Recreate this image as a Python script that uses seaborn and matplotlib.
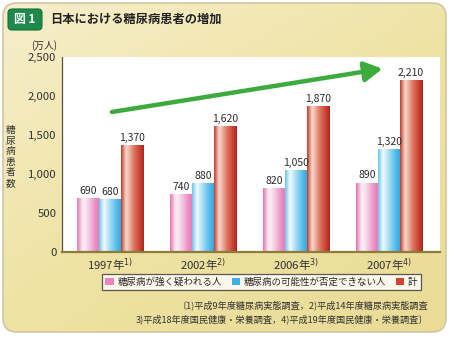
import numpy as np
import pandas as pd
import matplotlib
matplotlib.use("Agg")
import matplotlib.pyplot as plt
import seaborn as sns
from matplotlib.colors import LinearSegmentedColormap
from matplotlib.patches import FancyBboxPatch, Patch

# --- data -------------------------------------------------------------
years = ["1997年$^{1)}$", "2002年$^{2)}$", "2006年$^{3)}$", "2007年$^{4)}$"]
strongly_suspected = [690, 740, 820, 890]       # 糖尿病が強く疑われる人
cannot_be_ruled_out = [680, 880, 1050, 1320]    # 糖尿病の可能性が否定できない人
total = [1370, 1620, 1870, 2210]                # 計
series_names = ["糖尿病が強く疑われる人", "糖尿病の可能性が否定できない人", "計"]
y_ticks = [0, 500, 1000, 1500, 2000, 2500]

df = pd.DataFrame({
    "year": years * 3,
    "group": [series_names[0]] * 4 + [series_names[1]] * 4 + [series_names[2]] * 4,
    "value": strongly_suspected + cannot_be_ruled_out + total,
})

sns.set_theme(style="white")
JP = ["Noto Sans CJK JP", "DejaVu Sans"]
plt.rcParams["font.family"] = JP
plt.rcParams["mathtext.fontset"] = "dejavusans"

W, H = 450, 337
fig = plt.figure(figsize=(W / 100, H / 100), dpi=100)
fig.patch.set_facecolor("white")

# cream/yellow card background with rounded corners
bg = fig.add_axes([0, 0, 1, 1], zorder=-10)
bg.set_xlim(0, W)
bg.set_ylim(H, 0)
bg.axis("off")
gy = np.linspace(0, 1, 64)[:, None]
gx = np.linspace(0, 1, 64)[None, :]
grad = 0.55 * gy + 0.45 * gx
card_cmap = LinearSegmentedColormap.from_list("card", ["#f6eecb", "#efe3a4", "#eadc96"])
card = FancyBboxPatch((3, 3), W - 7, H - 8, boxstyle="round,pad=0,rounding_size=14",
                      facecolor="none", edgecolor="#cfc7a4", lw=1.2)
bg.add_patch(card)
im = bg.imshow(card_cmap(grad), extent=[3, W - 4, H - 5, 3], aspect="auto", zorder=0)
im.set_clip_path(card)

# title badge and title
badge = FancyBboxPatch((8, 9), 34, 21, boxstyle="round,pad=0,rounding_size=4",
                       facecolor="#1f8a4c", edgecolor="#16703c", lw=0.8)
bg.add_patch(badge)
bg.text(25, 19.5, "図 1", color="white", fontsize=8.5, fontweight="bold",
        ha="center", va="center", family=JP)
bg.text(50, 19.5, "日本における糖尿病患者の増加", color="#222222", fontsize=8.8,
        fontweight="bold", ha="left", va="center", family=JP)

# unit and vertical y label (one glyph per line)
bg.text(44, 45.5, "(万人)", fontsize=7, ha="center", va="center", color="#333333", family=JP)
for k, ch in enumerate("糖尿病患者数"):
    bg.text(11, 130 + k * 10.6, ch, fontsize=7, ha="center", va="center",
            color="#333333", family=JP)

# --- bars -------------------------------------------------------------
ax = fig.add_axes([62 / W, 1 - 252 / H, (440 - 62) / W, (252 - 57) / H])
ax.set_facecolor("white")
palette = ["#ec8cc0", "#45b4e6", "#cf3f2f"]
sns.barplot(data=df, x="year", y="value", hue="group", palette=palette,
            width=0.71, saturation=1, legend=False, ax=ax, linewidth=0)

ax.set_xlim(-0.516, 3.55)
ax.set_ylim(0, 2500)
ax.set_yticks(y_ticks)
ax.set_yticklabels([f"{v:,}" for v in y_ticks], fontsize=8.2, color="#333333")
ax.set_xlabel("")
ax.set_ylabel("")
ax.tick_params(axis="y", direction="out", length=3, width=0.8, color="#555555", pad=1)
ax.tick_params(axis="x", length=0, pad=3)
for lab in ax.get_xticklabels():
    lab.set_fontsize(8.2)
    lab.set_color("#333333")
for side in ["top", "right"]:
    ax.spines[side].set_visible(False)
ax.spines["left"].set_color("#5a5040")
ax.spines["left"].set_linewidth(0.9)
ax.spines["bottom"].set_color("#8c7c3c")
ax.spines["bottom"].set_linewidth(1.6)

# horizontal shading inside each bar
gradients = [
    ["#e274ad", "#f9e3ef", "#fbeef5", "#f3c4de", "#ea8ac0", "#e67ab5"],
    ["#6cc4ec", "#f2fafe", "#d4eff9", "#8fd3f2", "#48b6e7", "#2ea6de"],
    ["#c33a2a", "#f6d8cc", "#f0c0b0", "#de7a66", "#cc4232", "#a9281c"],
]
stops = [0.0, 0.22, 0.32, 0.55, 0.82, 1.0]
cmaps = [LinearSegmentedColormap.from_list(f"bar{i}", list(zip(stops, c)))
         for i, c in enumerate(gradients)]
row = np.linspace(0, 1, 128)[None, :]
for i, container in enumerate(ax.containers):
    for patch in container:
        x0, y0 = patch.get_x(), patch.get_y()
        w, h = patch.get_width(), patch.get_height()
        g = ax.imshow(cmaps[i](row), extent=[x0, x0 + w, y0, y0 + h],
                      aspect="auto", zorder=patch.get_zorder() + 0.1)
        g.set_clip_path(patch)
    ax.bar_label(container, labels=[f"{v:,.0f}" for v in container.datavalues],
                 fontsize=7.5, color="#2a2a2a", padding=1.5, family=JP)
ax.set_xlim(-0.516, 3.55)
ax.set_ylim(0, 2500)

# upward trend arrow
ax.annotate("", xy=(0.848, 0.94), xytext=(0.132, 0.718), xycoords="axes fraction",
            arrowprops=dict(arrowstyle="-|>,head_length=0.9,head_width=0.5",
                            color="#3caa3c", lw=3.2, shrinkA=0, shrinkB=0))

# --- legend -----------------------------------------------------------
handles = [Patch(facecolor=c, edgecolor="none") for c in ["#ea84bb", "#3fb0e4", "#d04434"]]
leg = fig.legend(handles, series_names, loc="center", ncol=3,
                 bbox_to_anchor=(261.5 / W, 1 - 282 / H),
                 prop={"family": JP, "size": 6.8}, frameon=True, fancybox=False,
                 handlelength=0.9, handleheight=0.9, handletextpad=0.4,
                 columnspacing=1.0, borderpad=0.35, edgecolor="#333333")
leg.get_frame().set_linewidth(0.9)
leg.get_frame().set_facecolor("white")

# sources
bg.text(428, 305, "〔1)平成9年度糖尿病実態調査，2)平成14年度糖尿病実態調査",
        fontsize=6.6, ha="right", va="center", color="#333333", family=JP)
bg.text(428, 319, "3)平成18年度国民健康・栄養調査，4)平成19年度国民健康・栄養調査〕",
        fontsize=6.6, ha="right", va="center", color="#333333", family=JP)

fig.savefig("out.png", dpi=100)
